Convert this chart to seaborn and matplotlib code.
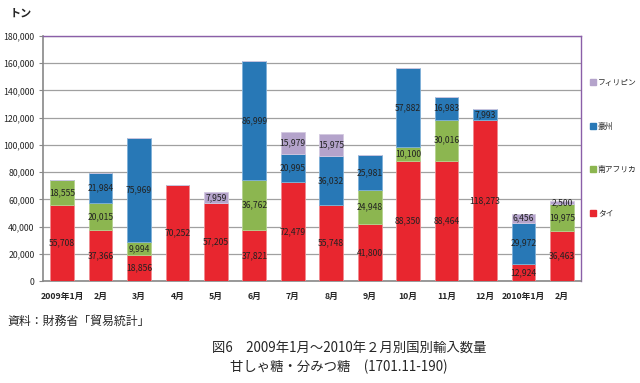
import numpy as np
import pandas as pd
import matplotlib
matplotlib.use("Agg")
import matplotlib.pyplot as plt
import seaborn as sns
from matplotlib.patches import Patch

# data (tons)
months = ["2009年1月", "2月", "3月", "4月", "5月", "6月", "7月", "8月",
          "9月", "10月", "11月", "12月", "2010年1月", "2月"]
thai = [55708, 37366, 18856, 70252, 57205, 37821, 72479, 55748,
        41800, 88350, 88464, 118273, 12924, 36463]
south_africa = [18555, 20015, 9994, 0, 0, 36762, 0, 0,
                24948, 10100, 30016, 0, 0, 19975]
australia = [0, 21984, 75969, 0, 0, 86999, 20995, 36032,
             25981, 57882, 16983, 7993, 29972, 0]
philippines = [0, 0, 0, 0, 7959, 0, 15979, 15975,
               0, 0, 0, 0, 6456, 2500]

series_names = ["タイ", "南アフリカ", "豪州", "フィリピン"]
series_vals = [thai, south_africa, australia, philippines]
colors = ["#E8262F", "#8CB650", "#2878B6", "#B4A3CB"]
edges = ["#F08A8F", "#B5D28E", "#7EB0D8", "#D3C8E0"]

sns.set_style("white")
plt.rcParams['font.family'] = ['Noto Sans CJK JP', 'DejaVu Sans']

fig = plt.figure(figsize=(6.4, 3.83), dpi=100)
ax = fig.add_axes([0.067, 0.266, 0.841, 0.640])

# "2月" appears twice, so use the position as the category key
keys = list(range(len(months)))
bottom = np.zeros(len(months))
for name, vals, c, ec in zip(series_names, series_vals, colors, edges):
    df = pd.DataFrame({"key": keys, "val": vals})
    sns.barplot(data=df, x="key", y="val", order=keys, color=c,
                bottom=bottom.copy(), width=0.62, edgecolor=ec, linewidth=0.6,
                errorbar=None, ax=ax, zorder=3, saturation=1)
    for i, v in enumerate(vals):
        if v > 0:
            ax.text(i, bottom[i] + v / 2, f"{v:,}", ha="center", va="center",
                    fontsize=6.2, color="#222222", zorder=5)
    bottom += np.array(vals)

ax.set_xlim(-0.5, len(months) - 0.5)
ax.set_ylim(0, 180000)
ax.set_yticks(np.arange(0, 180001, 20000))
ax.set_yticklabels([f"{v:,}" for v in range(0, 180001, 20000)], fontsize=6.3)
ax.set_xticks(keys)
ax.set_xticklabels(months, fontsize=6.3, fontweight="bold")
ax.set_xlabel("")
ax.set_ylabel("")
ax.yaxis.grid(True, color="#A0A0A0", linewidth=0.9, zorder=0)
ax.set_axisbelow(True)
ax.tick_params(axis="y", length=3, width=0.8, color="#888888", pad=3, left=True)
ax.tick_params(axis="x", length=0, pad=8)
for s in ["left", "bottom"]:
    ax.spines[s].set_color("#888888")
    ax.spines[s].set_linewidth(1.2)
for s in ["top", "right"]:
    ax.spines[s].set_color("#8A5FA8")
    ax.spines[s].set_linewidth(1.0)

handles = [Patch(facecolor=c, edgecolor=c) for c in colors[::-1]]
fig.legend(handles, series_names[::-1], loc="upper left",
           bbox_to_anchor=(0.913, 0.808), frameon=False, fontsize=5.6,
           handlelength=0.8, handleheight=0.8, handletextpad=0.25,
           labelspacing=4.55, borderpad=0.2)

fig.text(0.015, 0.965, "トン", fontsize=8, fontweight="bold", va="center")
fig.text(0.012, 0.162, "資料：財務省「貿易統計」", fontsize=8.6, va="center")
fig.text(0.545, 0.091, "図6　2009年1月～2010年２月別国別輸入数量",
         fontsize=9.6, ha="center", va="center")
fig.text(0.53, 0.041, "甘しゃ糖・分みつ糖　(1701.11-190)",
         fontsize=9.6, ha="center", va="center")

fig.savefig("out.png", dpi=100)
